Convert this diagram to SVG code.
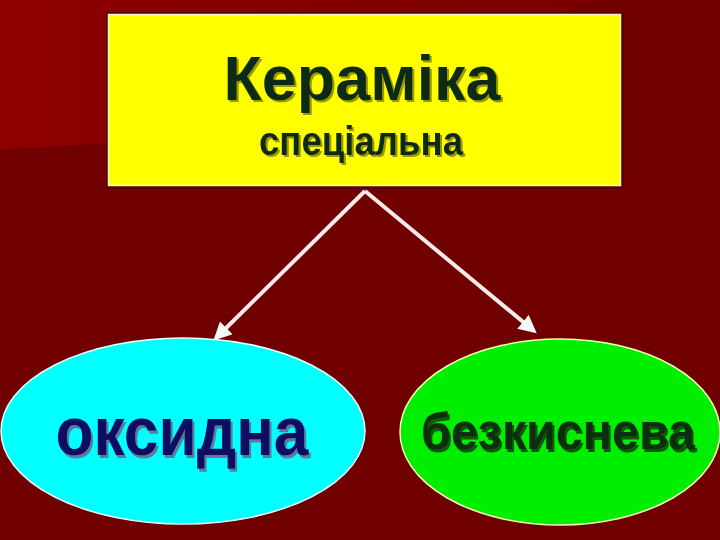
<svg xmlns="http://www.w3.org/2000/svg" width="720" height="540" viewBox="0 0 720 540">
<defs>
<style>
.t{font-family:"Liberation Sans",Arial,sans-serif;font-weight:bold;text-anchor:middle}
.conn{stroke:#fbeaea;stroke-width:4;fill:none}
</style>
<filter id="shY" x="-10%" y="-20%" width="120%" height="150%">
<feDropShadow dx="2" dy="2" stdDeviation="0.4" flood-color="#9a9a00" flood-opacity="1"/>
</filter>
<filter id="shB" x="-10%" y="-20%" width="120%" height="150%">
<feDropShadow dx="2" dy="3" stdDeviation="0.4" flood-color="#5a7aa0" flood-opacity="1"/>
</filter>
<filter id="shG" x="-10%" y="-20%" width="120%" height="150%">
<feDropShadow dx="2" dy="3" stdDeviation="0.4" flood-color="#0a5a0a" flood-opacity="1"/>
</filter>
<marker id="ah" viewBox="0 0 10 10" refX="8" refY="5" markerWidth="4.5" markerHeight="4.5" orient="auto" markerUnits="strokeWidth">
<path d="M0,0 L10,5 L0,10 Z" fill="#f4f8f8"/>
</marker>
<linearGradient id="bg" x1="0" y1="0" x2="1" y2="0">
<stop offset="0" stop-color="#8d0000"/>
<stop offset="1" stop-color="#7c0000"/>
</linearGradient>
</defs>
<rect width="720" height="540" fill="#700000"/>
<polygon points="0,0 600,0 110,143 0,150" fill="url(#bg)"/>
<g id="node-keramika">
<rect x="106" y="12" width="518" height="177" fill="#5c0000"/>
<rect x="108.5" y="14.5" width="512" height="171" fill="#ffff00" stroke="#fff6c8" stroke-width="1.5"/>
<text class="t" x="362" y="100" font-size="63" fill="#0c2c14" filter="url(#shY)" textLength="277" lengthAdjust="spacingAndGlyphs">Кераміка</text>
<text class="t" x="361" y="155" font-size="40" fill="#0c2c14" filter="url(#shY)" textLength="204" lengthAdjust="spacingAndGlyphs">спеціальна</text>
</g>
<g id="connectors">
<line class="conn" x1="365" y1="191" x2="216" y2="338" marker-end="url(#ah)"/>
<line class="conn" x1="365" y1="191" x2="534" y2="331" marker-end="url(#ah)"/>
</g>
<g id="node-oksydna">
<ellipse cx="183" cy="431" rx="182" ry="93" fill="#00ffff" stroke="#e8ffff" stroke-width="1.5"/>
<text class="t" x="182" y="455" font-size="68" fill="#0c0c64" filter="url(#shB)" textLength="253" lengthAdjust="spacingAndGlyphs">оксидна</text>
</g>
<g id="node-bezkysneva">
<ellipse cx="560" cy="432" rx="160" ry="93" fill="#00ee00" stroke="#f0ffb0" stroke-width="1.5"/>
<text class="t" x="558" y="449" font-size="52" fill="#0a2e0e" filter="url(#shG)" textLength="274" lengthAdjust="spacingAndGlyphs">безкиснева</text>
</g>
</svg>
